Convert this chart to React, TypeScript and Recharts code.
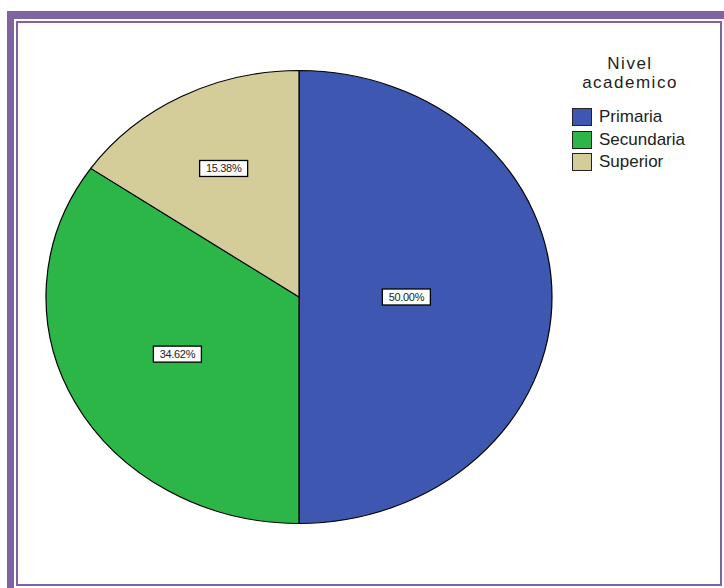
import React from "react";
import { PieChart, Pie, Cell } from "recharts";

// Nivel academico: frequency counts (n = 26)
const categories = ["Primaria", "Secundaria", "Superior"];
const counts = [13, 9, 4];
const percentLabels = ["50.00%", "34.62%", "15.38%"];

const colors = ["#3e57b0", "#2cb648", "#d5cd99"];
const frame = "#8064a2";

const data = categories.map((name, i) => ({ name, value: counts[i], label: percentLabels[i] }));

// the SPSS pie is an ellipse: draw a circle and squash it vertically
const SQUASH = 0.895;
const R = 253;
const CX = 299;
const CY = 300;
const RAD = Math.PI / 180;

const CentroidLabel = (props: any) => {
  const { cx, cy, midAngle, outerRadius, percent, index } = props;
  const half = percent * Math.PI;
  const d = ((2 / 3) * outerRadius * Math.sin(half)) / half;
  const x = cx + d * Math.cos(-midAngle * RAD);
  const y = cy + d * Math.sin(-midAngle * RAD);
  return (
    <g transform={`translate(${x},${y}) scale(1,${1 / SQUASH})`}>
      <rect x={-24} y={-8} width={48} height={16} fill="#fff" stroke="#000" strokeWidth={1.3} />
      <text
        x={0} y={4}
        textAnchor="middle"
        fontSize={11}
        fontFamily="'Liberation Sans', Arial, sans-serif"
        fill="#222"
        letterSpacing={-0.3}
      >
        {data[index].label}
      </text>
    </g>
  );
};

export default function App() {
  return (
    <div style={{ position: "absolute", left: 0, top: 0, width: 724, height: 588, overflow: "hidden", background: "#fff" }}>
      <div
        style={{
          position: "absolute", left: 7, top: 11, width: 724, height: 585,
          boxSizing: "border-box",
          borderStyle: "solid", borderColor: frame,
          borderLeftWidth: 7, borderRightWidth: 7, borderTopWidth: 8, borderBottomWidth: 8,
        }}
      >
        <div style={{ position: "absolute", inset: 2, border: `2px solid ${frame}` }} />
      </div>

      <div
        style={{
          position: "absolute", left: 0, top: 296.5 - CY,
          transform: `scaleY(${SQUASH})`,
          transformOrigin: `${CX}px ${CY}px`,
        }}
      >
        <PieChart width={600} height={600} margin={{ top: 0, right: 0, bottom: 0, left: 0 }}>
          <Pie
            data={data}
            dataKey="value"
            nameKey="name"
            cx={CX}
            cy={CY}
            outerRadius={R}
            startAngle={90}
            endAngle={-270}
            stroke="#000"
            strokeWidth={1.2}
            label={CentroidLabel}
            labelLine={false}
            isAnimationActive={false}
          >
            {data.map((d, i) => (
              <Cell key={d.name} fill={colors[i]} />
            ))}
          </Pie>
        </PieChart>
      </div>

      <div
        style={{
          position: "absolute", left: 572, top: 54, width: 120,
          fontFamily: "'Liberation Sans', Arial, sans-serif", color: "#222",
        }}
      >
        <div style={{ textAlign: "center", fontSize: 17, lineHeight: "19px", letterSpacing: 1.5, marginLeft: -4 }}>
          Nivel
          <br />
          academico
        </div>
        <div style={{ marginTop: 14 }}>
          {categories.map((c, i) => (
            <div key={c} style={{ display: "flex", alignItems: "center", height: 22.5, fontSize: 17 }}>
              <span
                style={{
                  display: "inline-block", width: 18, height: 16, background: colors[i],
                  border: "1px solid #222", marginRight: 7,
                }}
              />
              {c}
            </div>
          ))}
        </div>
      </div>
    </div>
  );
}
